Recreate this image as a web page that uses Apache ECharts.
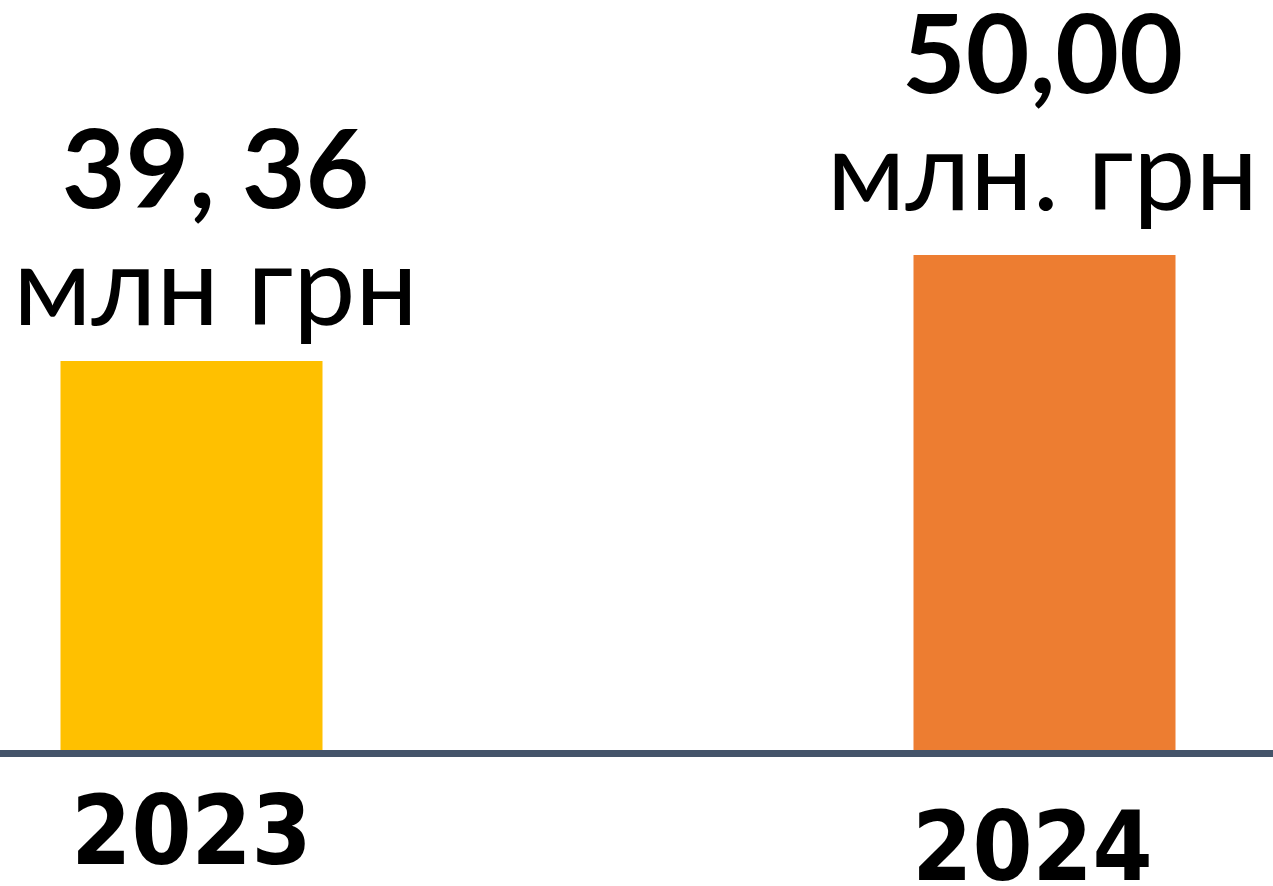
<!DOCTYPE html>
<html>
<head>
<meta charset="utf-8">
<script src="https://cdn.jsdelivr.net/npm/echarts@6/dist/echarts.min.js"></script>
<style>
html,body{margin:0;padding:0;background:#fff;}
#chart{width:1273px;height:886px;}
</style>
</head>
<body>
<div id="chart"></div>
<script>
const years = ['2023', '2024'];
const values = [39.36, 50.00];
const valueLabels = ['39, 36', '50,00'];
const unitLabels = ['млн грн', 'млн. грн'];
const barColors = ['#FFC000', '#ED7D31'];

const labelOffsets = [[24, 0], [-2, 0]];
const labelDistances = [14, 23];
const yearPadding = [[0, 0, 0, 0], [16, 24, 0, 0]];

const chart = echarts.init(document.getElementById('chart'));
chart.setOption({
  backgroundColor: '#ffffff',
  animation: false,
  grid: { left: -235, right: -198, top: 255, bottom: 133, containLabel: false, outerBoundsMode: 'none' },
  xAxis: {
    type: 'category',
    z: 5,
    data: years.map((y, i) => ({
      value: y,
      textStyle: { padding: yearPadding[i] }
    })),
    axisLine: { show: true, lineStyle: { color: '#44546A', width: 7 } },
    axisTick: { show: false },
    axisLabel: {
      margin: 38,
      color: '#000',
      fontFamily: 'DejaVu Sans Condensed',
      fontWeight: 'bold',
      fontSize: 96
    }
  },
  yAxis: {
    type: 'value',
    min: 0,
    max: 50,
    show: false,
    splitLine: { show: false }
  },
  series: [{
    type: 'bar',
    barWidth: 262,
    z: 2,
    data: values.map((v, i) => ({
      value: v,
      itemStyle: { color: barColors[i] },
      label: {
        show: true,
        position: 'top',
        distance: labelDistances[i],
        offset: labelOffsets[i],
        formatter: () => '{num|' + valueLabels[i] + '}\n{unit|' + unitLabels[i] + '}',
        rich: {
          num: { fontFamily: 'Lato', fontWeight: 'bold', fontSize: 110, lineHeight: 116, color: '#000', align: 'center' },
          unit: { fontFamily: 'Lato', fontSize: 111, lineHeight: 116, color: '#000', align: 'center' }
        }
      }
    }))
  }]
});
</script>
</body>
</html>
